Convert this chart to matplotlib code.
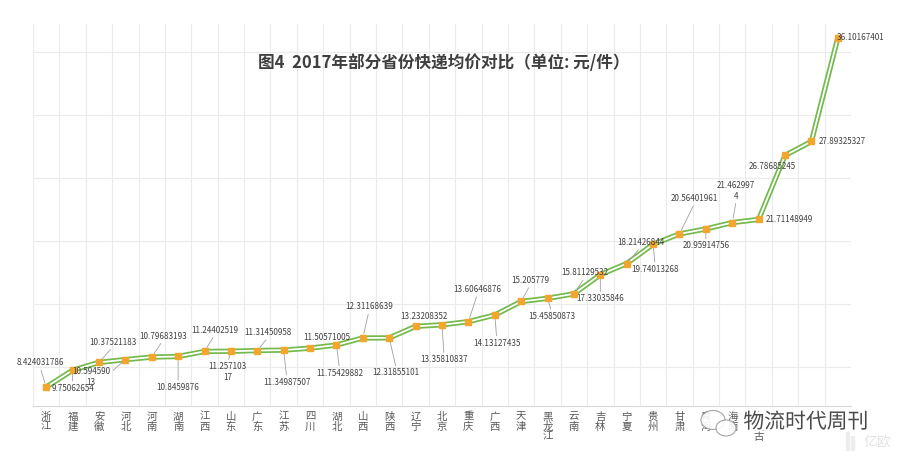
import matplotlib.pyplot as plt
import matplotlib.patheffects as pe
from matplotlib.patches import Ellipse, Rectangle

plt.rcParams['font.family'] = ['Noto Sans CJK SC', 'DejaVu Sans']

# 数据：2017年部分省份快递均价（元/件）
provinces = ['浙江', '福建', '安徽', '河北', '河南', '湖南', '江西', '山东', '广东', '江苏',
             '四川', '湖北', '山西', '陕西', '辽宁', '北京', '重庆', '广西', '天津', '黑龙江',
             '云南', '吉林', '宁夏', '贵州', '甘肃', '青海', '海南', '内蒙古', '上海', '新疆', '西藏']
prices = [8.424031786, 9.75062654, 10.37521183, 10.59459013, 10.79683193, 10.8459876,
          11.24402519, 11.25710317, 11.31450958, 11.34987507, 11.50571005, 11.75429882,
          12.31168639, 12.31855101, 13.23208352, 13.35810837, 13.60646876, 14.13127435,
          15.205779, 15.45850873, 15.81129532, 17.33035846, 18.21426844, 19.74013268,
          20.56401961, 20.95914756, 21.4629974, 21.71148949, 26.78685245, 27.89325327,
          36.10167401]
title = '图4  2017年部分省份快递均价对比（单位: 元/件）'

# 数据标签相对数据点的偏移（像素）和是否有引导线
label_dx = [-6, 0, 14, -34, 11, 0, 10, -3, 11, 3, 17, 3, 6, 7, 8, 2, 9, 2, 9, 4,
            11, 0, 14, 2, 15, 0, 4, 31, -13, 31, 23]
label_dy = [24, -18, 20, -17, 21, -31, 21, -21, 18, -32, 11, -28, 31, -35, 10, -35, 32, -28, 21, -18,
            21, -24, 21, -25, 35, -17, 32, 0, -11, 0, 0]
leader = [1, 1, 1, 1, 1, 1, 1, 1, 1, 1, 0, 1, 1, 1, 0, 1, 1, 1, 1, 1,
          1, 1, 1, 1, 1, 1, 1, 0, 0, 0, 0]
wrapped = {3, 7, 26}  # 标签被折成两行
hidden = {28, 29, 30}  # 被水印盖住的省份名

W, H = 903, 461
fig = plt.figure(figsize=(W / 100, H / 100), dpi=100)
ax = fig.add_axes([33 / W, 1 - 406 / H, (851 - 33) / W, (406 - 24) / H])

x = list(range(len(provinces)))
# 双线效果：绿色粗线 + 白色细线
ax.plot(x, prices, color='#74B94B', lw=3.8, zorder=3)
ax.plot(x, prices, color='white', lw=1.3, zorder=4)
ax.plot(x, prices, 's', color='#F2A62E', ms=4, zorder=5)

ax.set_xlim(-0.5, len(provinces) - 0.5)
ax.set_ylim(6.917, 37.21)

ax.set_yticks([10, 15, 20, 25, 30, 35])
ax.yaxis.grid(True, color='#EBEBEB', lw=0.8)
ax.tick_params(axis='y', length=0, labelleft=False)

ax.set_xticks(x)
ax.set_xticklabels(['' if i in hidden else '\n'.join(p) for i, p in enumerate(provinces)],
                   fontsize=7.5, color='#595959')
for lbl in ax.get_xticklabels():
    lbl.set_linespacing(1.0)
ax.set_xticks([i - 0.5 for i in range(len(provinces) + 1)], minor=True)
ax.xaxis.grid(True, which='minor', color='#EBEBEB', lw=0.8)
ax.xaxis.grid(False, which='major')
ax.tick_params(axis='x', which='both', length=0, pad=4)
ax.set_axisbelow(True)

for s in ['top', 'left', 'right']:
    ax.spines[s].set_visible(False)
ax.spines['bottom'].set_color('#D9D9D9')

for i, v in enumerate(prices):
    txt = str(v)
    if i in wrapped:
        txt = txt[:9] + '\n' + txt[9:]
    rp = (0.5, 0) if label_dy[i] > 0 else (0.5, 1)
    if i == 3:
        rp = (1, 0.7)
    arrow = None
    if leader[i]:
        arrow = dict(arrowstyle='-', color='#A0A0A0', lw=0.6, shrinkA=0, shrinkB=3, relpos=rp)
    ax.annotate(txt, (i, v), xytext=(label_dx[i], label_dy[i]), textcoords='offset pixels',
                ha='center', va='center', fontsize=5.8, color='#404040',
                linespacing=1.3, arrowprops=arrow, zorder=6)

fig.text(444 / W, 1 - 63 / H, title, ha='center', va='center',
         fontsize=12, fontweight='bold', color='#3F3F3F')

# 水印
wm = fig.add_axes([0, 0, 1, 1])
wm.set_xlim(0, W)
wm.set_ylim(H, 0)
wm.axis('off')
wm.patch.set_alpha(0)
wm.add_patch(Ellipse((713, 420), 24, 19, facecolor='white', edgecolor='#9A9A9A', lw=0.8, alpha=0.9))
wm.add_patch(Ellipse((726, 428), 20, 16, facecolor='white', edgecolor='#9A9A9A', lw=0.8, alpha=0.9))
wm.text(806, 422, '物流时代周刊', ha='center', va='center', fontsize=15, color='#4A4A4A',
        path_effects=[pe.withStroke(linewidth=3, foreground='white')])
wm.add_patch(Rectangle((846, 432), 3, 18, color='#EDEDED'))
wm.add_patch(Rectangle((851, 436), 3, 14, color='#EDEDED'))
wm.text(877, 442, '亿欧', ha='center', va='center', fontsize=10, color='#E3E3E3')

fig.savefig('out.png', dpi=100)
